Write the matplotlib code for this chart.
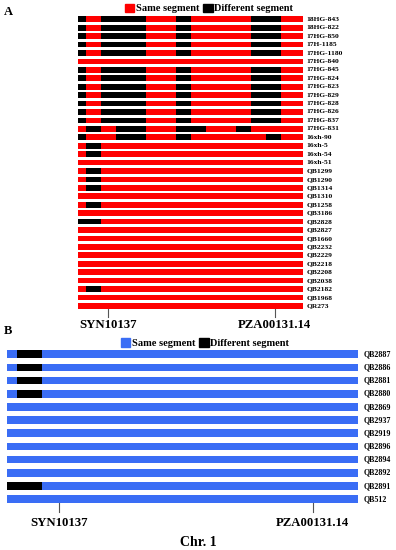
import matplotlib
matplotlib.use("Agg")
import matplotlib.pyplot as plt
from matplotlib.patches import Patch

plt.rcParams['font.family'] = ['Liberation Serif', 'DejaVu Serif']
plt.rcParams['font.weight'] = 'bold'

RED = '#ff0000'
BLUE = '#3a6df5'
BLACK = '#000000'

# panel A: lines and their "different" (black) intervals along the chromosome (0-30 units)
linesA = ['18HG-843', '18HG-822', '17HG-850', '17H-1185', '17HG-1180', '17HG-840',
          '17HG-845', '17HG-824', '17HG-823', '17HG-829', '17HG-828', '17HG-826',
          '17HG-837', '17HG-831', '16xh-90', '16xh-5', '16xh-54', '16xh-51',
          'QB1299', 'QB1290', 'QB1314', 'QB1310', 'QB1258', 'QB3186', 'QB2828',
          'QB2827', 'QB1660', 'QB2232', 'QB2229', 'QB2218', 'QB2208', 'QB2038',
          'QB2182', 'QB1968', 'QR273']
common = [(0, 1), (3, 9), (13, 15), (23, 27)]
diffA = {
    '18HG-843': common, '18HG-822': common, '17HG-850': common, '17H-1185': common,
    '17HG-1180': common, '17HG-845': common, '17HG-824': common, '17HG-823': common,
    '17HG-829': common, '17HG-828': common, '17HG-826': common, '17HG-837': common,
    '17HG-831': [(1, 3), (5, 9), (13, 17), (21, 23)],
    '16xh-90': [(0, 1), (5, 9), (13, 15), (25, 27)],
    '16xh-5': [(1, 3)], '16xh-54': [(1, 3)], 'QB1299': [(1, 3)], 'QB1290': [(1, 3)],
    'QB1314': [(1, 3)], 'QB1258': [(1, 3)], 'QB2828': [(0, 3)], 'QB2182': [(1, 3)],
}
lenA = 30
markersA = ['SYN10137', 'PZA00131.14']
markerPosA = [4, 26.2]

# panel B (0-100 units)
linesB = ['QB2887', 'QB2886', 'QB2881', 'QB2880', 'QB2869', 'QB2937', 'QB2919',
          'QB2896', 'QB2894', 'QB2892', 'QB2891', 'QB512']
diffB = {'QB2887': [(3, 10)], 'QB2886': [(3, 10)], 'QB2881': [(3, 10)],
         'QB2880': [(3, 10)], 'QB2891': [(0, 10)]}
lenB = 100
markersB = ['SYN10137', 'PZA00131.14']
markerPosB = [15, 87]

W, H = 396, 550
fig = plt.figure(figsize=(W / 100, H / 100), dpi=100)


def draw_panel(ax, lines, diffs, length, color, bar_h, label_x, fs, extra):
    n = len(lines)
    for i, name in enumerate(lines):
        ax.barh(i, length, left=0, height=bar_h, color=color, linewidth=0)
        for a, b in diffs.get(name, []):
            ax.barh(i, b - a, left=a, height=bar_h, color=BLACK, linewidth=0)
        ax.text(label_x, i, name, fontsize=fs, ha='left', va='center', fontweight='bold')
    ax.set_xlim(0, length)
    ax.set_ylim(n - 0.5 + extra, -0.5)
    ax.axis('off')
    return n


# panel A: rows centred from 19.3px to 305.8px
spA = (305.8 - 19.3) / (len(linesA) - 1)
extraA = 3.0
totA = spA * (len(linesA) + extraA)
axA = fig.add_axes([78 / W, 1 - (19.3 - spA / 2 + totA) / H, 225 / W, totA / H])
nA = draw_panel(axA, linesA, diffA, lenA, RED, 0.68, 30.45, 5.4, extraA)
for m, p in zip(markersA, markerPosA):
    axA.plot([p, p], [nA - 0.6, nA + 0.35], color='#555555', lw=0.8, clip_on=False)
    axA.text(p, nA + 0.6, m, fontsize=9.2, ha='center', va='top', fontweight='bold')

# panel B: rows centred from 354.3px to 499px
spB = (499 - 354.3) / (len(linesB) - 1)
extraB = 2.3
totB = spB * (len(linesB) + extraB)
axB = fig.add_axes([6.7 / W, 1 - (354.3 - spB / 2 + totB) / H, 351.7 / W, totB / H])
nB = draw_panel(axB, linesB, diffB, lenB, BLUE, 0.58, 101.4, 5.8, extraB)
for m, p in zip(markersB, markerPosB):
    axB.plot([p, p], [nB - 0.7, nB + 0.0], color='#555555', lw=0.8, clip_on=False)
    axB.text(p, nB + 0.35, m, fontsize=9.2, ha='center', va='top', fontweight='bold')

fig.text(0.5, 1 - 542 / H, 'Chr. 1', fontsize=10, ha='center', va='center', fontweight='bold')

# panel letters
fig.text(4 / W, 1 - 12 / H, 'A', fontsize=9, ha='left', va='center', fontweight='bold')
fig.text(4 / W, 1 - 331 / H, 'B', fontsize=9, ha='left', va='center', fontweight='bold')

# legends
handlesA = [Patch(color=RED, label='Same segment'), Patch(color=BLACK, label='Different segment')]
fig.legend(handles=handlesA, loc='center', bbox_to_anchor=(209 / W, 1 - 8.5 / H), ncol=2,
           frameon=False, fontsize=7.5, handlelength=0.9, handleheight=0.9,
           handletextpad=0.15, columnspacing=0.4, borderpad=0)
handlesB = [Patch(color=BLUE, label='Same segment'), Patch(color=BLACK, label='Different segment')]
fig.legend(handles=handlesB, loc='center', bbox_to_anchor=(205 / W, 1 - 343 / H), ncol=2,
           frameon=False, fontsize=7.5, handlelength=0.9, handleheight=0.9,
           handletextpad=0.15, columnspacing=0.4, borderpad=0)

fig.savefig('out.png', dpi=100, facecolor='white')
